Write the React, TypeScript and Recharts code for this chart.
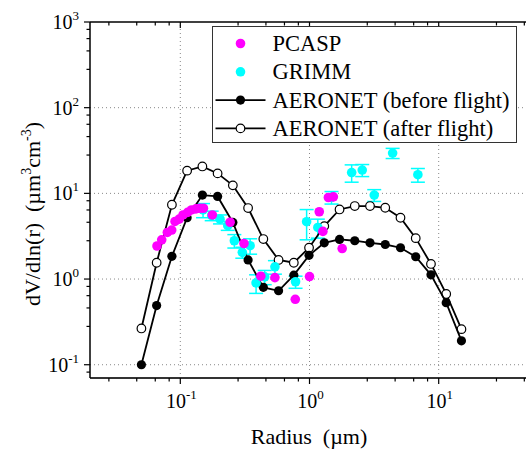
import { ComposedChart, ErrorBar, ReferenceLine, Scatter, XAxis, YAxis } from "recharts";

const FONT = "Liberation Serif, DejaVu Serif, Times New Roman, serif";
const W = 540;
const H = 449;
const LEFT = 90;
const TOP = 22;
const BOTTOM = 378;

// axis ticks (log decades + Origin-style linear minor ticks)
const X_MAJOR = [0.1, 1, 10];
const X_MINOR = [0.028, 0.046, 0.064, 0.082, 0.28, 0.46, 0.64, 0.82, 2.8, 4.6, 6.4, 8.2, 28, 46];
const Y_MAJOR = [0.1, 1, 10, 100, 1000];
const Y_MINOR = [0.082, 0.28, 0.46, 0.64, 0.82, 2.8, 4.6, 6.4, 8.2, 28, 46, 64, 82, 280, 460, 640, 820];
const X_GRID = [0.1, 1, 10];
const Y_GRID = [0.1, 1, 10, 100];

// AERONET retrieval bins (µm)
const R_AERONET = [
  0.05, 0.0656, 0.0861, 0.1129, 0.1482, 0.1944, 0.2551, 0.3347, 0.4392, 0.5762, 0.7561,
  0.992, 1.3016, 1.7078, 2.2407, 2.94, 3.8575, 5.0613, 6.6407, 8.7131, 11.432, 15.0,
];
const V_BEFORE = [
  0.1, 0.49, 1.84, 5.2, 9.55, 9.2, 4.58, 1.67, 0.8, 0.73, 1.11, 1.89, 2.65, 2.9, 2.8, 2.65,
  2.53, 2.32, 1.82, 1.12, 0.53, 0.19,
];
const V_AFTER = [
  0.265, 1.55, 7.36, 18.4, 20.6, 17.1, 12.4, 6.74, 2.93, 1.67, 1.55, 2.32, 4.15, 6.49, 7.11,
  7.11, 6.79, 5.19, 3.0, 1.5, 0.67, 0.26,
];

const R_PCASP = [
  0.066, 0.0718, 0.0794, 0.0858, 0.091, 0.098, 0.105, 0.114, 0.122, 0.132, 0.142, 0.151,
  0.177, 0.243, 0.311, 0.42, 0.54, 0.776, 1.0, 1.19, 1.27, 1.4, 1.53, 1.79,
];
const V_PCASP = [
  2.43, 2.87, 3.5, 3.73, 4.7, 5.0, 5.6, 6.0, 6.4, 6.6, 6.7, 6.7, 5.6, 4.6, 2.6, 1.08, 1.04,
  0.58, 1.07, 6.1, 3.6, 8.95, 9.1, 2.27,
];

const R_GRIMM = [
  0.15, 0.175, 0.203, 0.233, 0.262, 0.302, 0.347, 0.386, 0.45, 0.54, 0.78, 0.95, 1.16, 1.48,
  2.12, 2.56, 3.17, 4.4, 6.9,
];
const V_GRIMM = [
  6.4, 5.5, 5.0, 4.2, 2.8, 2.05, 2.45, 0.9, 1.06, 1.39, 0.93, 4.67, 4.0, 9.0, 17.5, 18.7,
  9.55, 29.5, 16.5,
];
const E_GRIMM = [
  1.2, 0.7, 0.6, 0.5, 0.5, 0.3, 0.5, 0.22, 0.2, 0.25, 0.15, 1.8, 1.0, 1.5, 4.0, 3.0, 1.5,
  4.0, 3.0,
];

const before = R_AERONET.map((r, i) => ({ r, v: V_BEFORE[i] }));
const after = R_AERONET.map((r, i) => ({ r, v: V_AFTER[i] }));
const pcasp = R_PCASP.map((r, i) => ({ r, v: V_PCASP[i] }));
const grimm = R_GRIMM.map((r, i) => ({ r, v: V_GRIMM[i], e: E_GRIMM[i] }));

const isMajor = (list: number[], v: number) => list.includes(v);

function BottomTick({ x, payload }: any) {
  const v = payload.value;
  const major = isMajor(X_MAJOR, v);
  return (
    <g>
      <line x1={x} x2={x} y1={BOTTOM} y2={BOTTOM + (major ? 6 : 3.5)} stroke="#000" strokeWidth={1.2} />
      {major && (
        <text x={x + 1} y={408} textAnchor="middle" style={{ fontFamily: FONT }} fontSize={20} fill="#000">
          10
          <tspan dy={-9} fontSize={13}>
            {Math.round(Math.log10(v))}
          </tspan>
        </text>
      )}
    </g>
  );
}

function TopTick({ x, payload }: any) {
  const major = isMajor(X_MAJOR, payload.value);
  return <line x1={x} x2={x} y1={TOP} y2={TOP + (major ? 6 : 3.5)} stroke="#000" strokeWidth={1.2} />;
}

function LeftTick({ y, payload }: any) {
  const v = payload.value;
  const major = isMajor(Y_MAJOR, v);
  return (
    <g>
      <line x1={LEFT - (major ? 6 : 3.5)} x2={LEFT} y1={y} y2={y} stroke="#000" strokeWidth={1.2} />
      {major && (
        <text x={79} y={y + 7} textAnchor="end" style={{ fontFamily: FONT }} fontSize={20} fill="#000">
          10
          <tspan dy={-9} fontSize={13}>
            {Math.round(Math.log10(v))}
          </tspan>
        </text>
      )}
    </g>
  );
}

const dotBlack = (p: any) => <circle cx={p.cx} cy={p.cy} r={4.6} fill="#000" />;
const dotOpen = (p: any) => <circle cx={p.cx} cy={p.cy} r={4.3} fill="#fff" stroke="#000" strokeWidth={1.2} />;
const dotMagenta = (p: any) => <circle cx={p.cx} cy={p.cy} r={4.8} fill="#ff00ff" />;
const dotCyan = (p: any) => <circle cx={p.cx} cy={p.cy} r={4.8} fill="#00ffff" />;

const LEGEND = [
  { label: "PCASP", kind: "magenta" },
  { label: "GRIMM", kind: "cyan" },
  { label: "AERONET (before flight)", kind: "before" },
  { label: "AERONET (after flight)", kind: "after" },
];

function Overlay() {
  return (
    <svg width={526} height={449} style={{ position: "absolute", left: 0, top: 0, pointerEvents: "none", fontFamily: FONT }}>
      <g transform="translate(212.5,26.5)">
        <rect x={0} y={0} width={304} height={116} fill="#fff" stroke="#333" strokeWidth={1} />
        {LEGEND.map((d, i) => {
          const cy = 17 + i * 28.3;
          return (
            <g key={d.label}>
              {(d.kind === "before" || d.kind === "after") && (
                <line x1={3} x2={53} y1={cy} y2={cy} stroke="#000" strokeWidth={1.8} />
              )}
              {d.kind === "magenta" && <circle cx={28} cy={cy} r={4.8} fill="#ff00ff" />}
              {d.kind === "cyan" && <circle cx={28} cy={cy} r={4.8} fill="#00ffff" />}
              {d.kind === "before" && <circle cx={28} cy={cy} r={4.6} fill="#000" />}
              {d.kind === "after" && (
                <circle cx={28} cy={cy} r={4.3} fill="#fff" stroke="#000" strokeWidth={1.2} />
              )}
              <text x={60} y={cy + 7.5} style={{ fontFamily: FONT }} fontSize={22.5} fill="#000">
                {d.label}
              </text>
            </g>
          );
        })}
      </g>
      <text x={309} y={444} textAnchor="middle" style={{ fontFamily: FONT }} fontSize={22} fill="#000">
        Radius{"\u00a0\u00a0"}(µm)
      </text>
      <text
        transform="translate(40,214) rotate(-90)"
        textAnchor="middle"
        style={{ fontFamily: FONT }}
        fontSize={22}
        fill="#000"
      >
        dV/dln(r){"\u00a0\u00a0"}(µm
        <tspan dy={-9} fontSize={14}>
          3
        </tspan>
        <tspan dy={9}>cm</tspan>
        <tspan dy={-9} fontSize={14}>
          -3
        </tspan>
        <tspan dy={9}>)</tspan>
      </text>
    </svg>
  );
}

export default function App() {
  return (
    <div
      style={{
        position: "fixed",
        left: 0,
        top: 0,
        width: 526,
        height: 449,
        overflow: "hidden",
        background: "#fff",
        fontFamily: FONT,
      }}
    >
      <ComposedChart width={W} height={H} margin={{ top: TOP - 1, right: 11, bottom: 0, left: 0 }}>
        <XAxis
          dataKey="r"
          type="number"
          scale="log"
          domain={[0.02, 50]}
          allowDataOverflow
          ticks={[...X_MAJOR, ...X_MINOR]}
          interval={0}
          height={H - BOTTOM}
          tick={<BottomTick />}
          tickLine={false}
          axisLine={{ stroke: "#333", strokeWidth: 2 }}
        />
        <XAxis
          xAxisId="top"
          orientation="top"
          dataKey="r"
          type="number"
          scale="log"
          domain={[0.02, 50]}
          allowDataOverflow
          ticks={[...X_MAJOR, ...X_MINOR]}
          interval={0}
          height={1}
          tick={<TopTick />}
          tickLine={false}
          axisLine={{ stroke: "#000", strokeWidth: 1.5 }}
        />
        <YAxis
          dataKey="v"
          type="number"
          scale="log"
          domain={[0.07, 1000]}
          allowDataOverflow
          ticks={[...Y_MAJOR, ...Y_MINOR]}
          interval={0}
          width={LEFT}
          tick={<LeftTick />}
          tickLine={false}
          axisLine={{ stroke: "#000", strokeWidth: 1.5 }}
        />
        {X_GRID.map((v) => (
          <ReferenceLine key={"x" + v} x={v} stroke="#888" strokeDasharray="1 3" />
        ))}
        {Y_GRID.map((v) => (
          <ReferenceLine key={"y" + v} y={v} stroke="#888" strokeDasharray="1 3" />
        ))}
        <Scatter
          data={after}
          dataKey="v"
          line={{ stroke: "#000", strokeWidth: 1.8 }}
          shape={dotOpen}
          isAnimationActive={false}
        />
        <Scatter
          data={before}
          dataKey="v"
          line={{ stroke: "#000", strokeWidth: 1.8 }}
          shape={dotBlack}
          isAnimationActive={false}
        />
        <Scatter data={grimm} dataKey="v" shape={dotCyan} isAnimationActive={false}>
          <ErrorBar dataKey="e" direction="y" width={7} stroke="#00ffff" strokeWidth={1.5} />
        </Scatter>
        <Scatter data={pcasp} dataKey="v" shape={dotMagenta} isAnimationActive={false} />
      </ComposedChart>
      <Overlay />
    </div>
  );
}
